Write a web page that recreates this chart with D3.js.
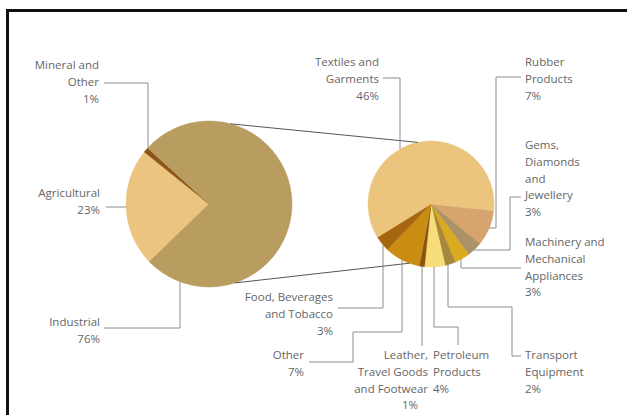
<!DOCTYPE html>
<html>
<head>
<meta charset="utf-8">
<script src="https://cdn.jsdelivr.net/npm/d3@7"></script>
<style>
    body { margin: 0; background: #fff; }
    svg { display: block; }
    text { font-family: "Open Sans", sans-serif; font-size: 11.5px; fill: #666; }
</style>
</head>
<body>
<svg></svg>
<script>
const W = 627;
const H = 415;

// data
const sectors = ["Agricultural", "Mineral and Other", "Industrial"];
const sectorShares = [23, 1, 76];

const industries = [
    "Rubber Products",
    "Gems, Diamonds and Jewellery",
    "Machinery and Mechanical Appliances",
    "Transport Equipment",
    "Petroleum Products",
    "Leather, Travel Goods and Footwear",
    "Other",
    "Food, Beverages and Tobacco",
    "Textiles and Garments"];
const industryShares = [7, 3, 3, 2, 4, 1, 7, 3, 46];

const sectorColors = ["#ebc47f", "#8a5516", "#b99d60"];
const industryColors = ["#d7a46f", "#ab9267", "#dbab1f", "#a7873b", "#f7dc7a", "#8c5312", "#c98d13", "#a6660f", "#ebc47d"];

let svg = d3.select("svg").attr("width", W).attr("height", H);

// frame (cut off at right and bottom like the source scan)
svg.append("rect")
    .attr("x", 7.5).attr("y", 10.5)
    .attr("width", 700).attr("height", 500)
    .attr("fill", "none").attr("stroke", "#111").attr("stroke-width", 3);

let deg = Math.PI / 180;

let big = {cx: 209, cy: 204, r: 83};
let small = {cx: 431, cy: 204, r: 63};

function drawPie(p, names, values, colors, start) {
    let color = d3.scaleOrdinal().domain(names).range(colors);
    let pie = d3.pie().sort(null).value(d => d.v)
        .startAngle(start * deg).endAngle(start * deg + 2 * Math.PI);
    let arc = d3.arc().innerRadius(0).outerRadius(p.r);
    let rows = names.map((n, i) => ({name: n, v: values[i]}));
    svg.append("g")
        .attr("transform", "translate(" + p.cx + "," + p.cy + ")")
        .selectAll("path").data(pie(rows)).enter().append("path")
        .attr("d", arc)
        .attr("fill", d => color(d.data.name))
        .attr("stroke", d => color(d.data.name))
        .attr("stroke-width", 0.5);
}

drawPie(big, sectors, sectorShares, sectorColors, 226);
drawPie(small, industries, industryShares, industryColors, 96);

// lines joining the industrial slice to the breakdown
function onEdge(p, a) {
    return [p.cx + p.r * Math.sin(a * deg), p.cy - p.r * Math.cos(a * deg)];
}
let joins = [[onEdge(big, 15), onEdge(small, -12)], [onEdge(big, 162), onEdge(small, 200)]];
svg.selectAll("line.join").data(joins).enter().append("line")
    .attr("class", "join")
    .attr("x1", d => d[0][0]).attr("y1", d => d[0][1])
    .attr("x2", d => d[1][0]).attr("y2", d => d[1][1])
    .attr("stroke", "#555").attr("stroke-width", 1);

// label layout: text lines, anchor, first baseline, leader elbows
let labels = [
    {pie: big, lines: ["Mineral and", "Other", "1%"], x: 99, y: 69, anchor: "end", path: [[104, 83], [148, 83]], to: "v"},
    {pie: big, lines: ["Agricultural", "23%"], x: 100, y: 197, anchor: "end", path: [[106, 207]], to: "h"},
    {pie: big, lines: ["Industrial", "76%"], x: 100, y: 326, anchor: "end", path: [[104, 328], [180, 328]], to: "v"},
    {pie: small, lines: ["Textiles and", "Garments", "46%"], x: 379, y: 66, anchor: "end", path: [[383, 78], [400, 78]], to: "v"},
    {pie: small, lines: ["Rubber", "Products", "7%"], x: 525, y: 66, anchor: "start", path: [[521, 77], [496, 77], [496, 228]], to: "h"},
    {pie: small, lines: ["Gems,", "Diamonds", "and", "Jewellery", "3%"], x: 525, y: 149, anchor: "start", path: [[521, 197], [510, 197], [510, 250]], to: "h"},
    {pie: small, lines: ["Machinery and", "Mechanical", "Appliances", "3%"], x: 525, y: 246, anchor: "start", path: [[521, 268], [461, 268]], to: "v"},
    {pie: small, lines: ["Transport", "Equipment", "2%"], x: 525, y: 359, anchor: "start", path: [[521, 356], [512, 356], [512, 307], [448, 307]], to: "v"},
    {pie: small, lines: ["Petroleum", "Products", "4%"], x: 433, y: 359, anchor: "start", path: [[458, 345], [458, 327], [434, 327]], to: "v"},
    {pie: small, lines: ["Leather,", "Travel Goods", "and Footwear", "1%"], x: 428, y: 359, anchor: "end", path: [[422, 346]], to: "v"},
    {pie: small, lines: ["Other", "7%"], x: 304, y: 359, anchor: "end", path: [[309, 362], [353, 362], [353, 332], [402, 332]], to: "v"},
    {pie: small, lines: ["Food, Beverages", "and Tobacco", "3%"], x: 333, y: 301, anchor: "end", path: [[338, 308], [383, 308]], to: "v"}
];

function attach(l) {
    let p = l.pie;
    let last = l.path[l.path.length - 1];
    if (l.to === "v") {
        let dy = Math.sqrt(p.r * p.r - Math.pow(last[0] - p.cx, 2));
        return [last[0], last[1] < p.cy ? p.cy - dy : p.cy + dy];
    } else {
        let dx = Math.sqrt(p.r * p.r - Math.pow(last[1] - p.cy, 2));
        return [last[0] < p.cx ? p.cx - dx : p.cx + dx, last[1]];
    }
}

let line = d3.line();
svg.selectAll("path.leader").data(labels).enter().append("path")
    .attr("class", "leader")
    .attr("d", d => line(d.path.concat([attach(d)])))
    .attr("fill", "none")
    .attr("stroke", "#8c8c8c")
    .attr("stroke-width", 1);

let texts = svg.selectAll("text.lbl").data(labels).enter().append("text")
    .attr("class", "lbl")
    .attr("text-anchor", d => d.anchor);

texts.each(function (d) {
    d3.select(this).selectAll("tspan").data(d.lines).enter().append("tspan")
        .attr("x", (s, i) => (d.lines[0] === "Leather," && i === 3) ? d.x - 10 : d.x)
        .attr("y", (s, i) => d.y + i * 16.8)
        .text(s => s);
});
</script>
</body>
</html>
